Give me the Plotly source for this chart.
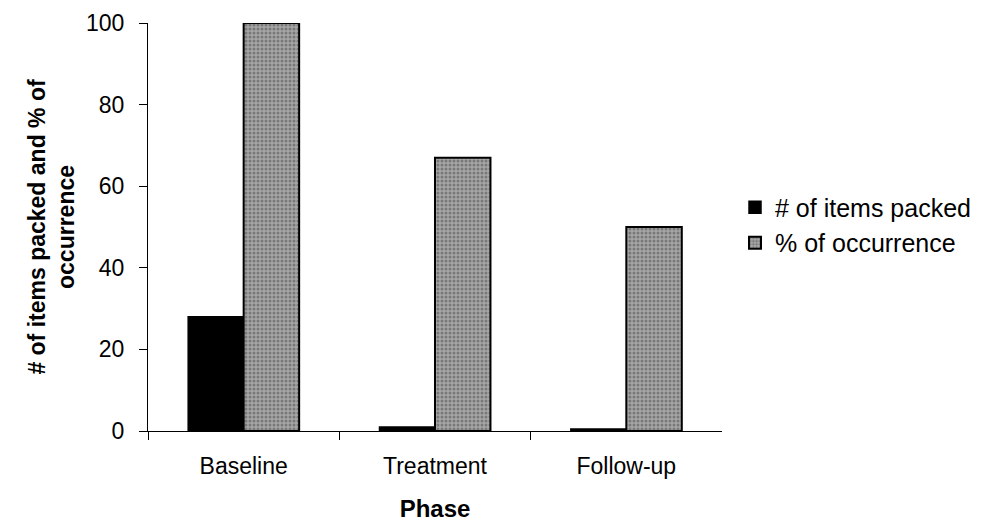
import plotly.graph_objects as go

phases = ["Baseline", "Treatment", "Follow-up"]
items_packed = [28, 1, 0.5]
pct_occurrence = [100, 67, 50]
y_ticks = [0, 20, 40, 60, 80, 100]

font = "Liberation Sans, Arial, sans-serif"

fig = go.Figure()
fig.add_trace(go.Bar(
    x=phases, y=items_packed, name="# of items packed",
    marker=dict(color="black", line=dict(color="black", width=1.5)),
))
fig.add_trace(go.Bar(
    x=phases, y=pct_occurrence, name="% of occurrence",
    marker=dict(color="#999999", line=dict(color="black", width=2),
                pattern=dict(shape=".", fgcolor="#4a4a4a", bgcolor="#a6a6a6",
                             size=4, solidity=0.45)),
))

fig.update_layout(
    width=983, height=522,
    margin=dict(l=148, r=0, t=23, b=91, autoexpand=False),
    paper_bgcolor="white", plot_bgcolor="white",
    barmode="group", bargap=0.42, bargroupgap=0,
    font=dict(family=font, size=23, color="black"),
    showlegend=True,
    legend=dict(x=0.703, y=0.505, xanchor="left", yanchor="middle",
                font=dict(size=25), tracegroupgap=4, itemwidth=30),
    xaxis=dict(
        domain=[0, 0.6874], automargin=False,
        showline=True, linecolor="black", linewidth=1,
        ticks="outside", tickson="boundaries", ticklen=8, tickcolor="black",
        title=dict(text="<b>Phase</b>", font=dict(size=24), standoff=22),
        tickfont=dict(size=23), ticklabelstandoff=14,
    ),
    yaxis=dict(
        range=[0, 100], tickvals=y_ticks, automargin=False,
        showline=True, linecolor="black", linewidth=1,
        ticks="outside", ticklen=8, tickcolor="black",
        showgrid=False, zeroline=False,
        title=dict(text="<b># of items packed and % of<br>occurrence</b>", font=dict(size=23), standoff=4),
        tickfont=dict(size=23), ticklabelstandoff=10,
    ),
)

fig.write_html("out.html")
